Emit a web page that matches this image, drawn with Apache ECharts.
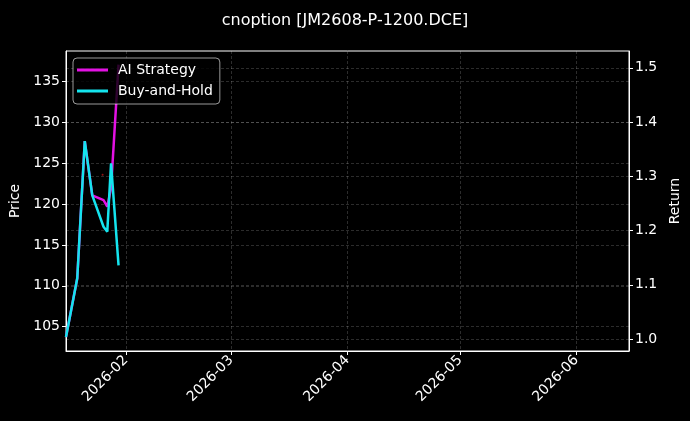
<!DOCTYPE html>
<html lang="en">
<head>
<meta charset="UTF-8">
<title>cnoption JM2608-P-1200.DCE</title>
<style>
    html, body { margin: 0; padding: 0; background: #000; }
    #echart { width: 690px; height: 421px; }
</style>
</head>
<body>

<div id="echart"></div>

<script src="https://cdn.jsdelivr.net/npm/echarts@6.0.0/dist/echarts.min.js"></script>
<script>
    // values
    const dates = ["2026-01-16", "2026-01-19", "2026-01-21", "2026-01-23", "2026-01-26", "2026-01-27", "2026-01-28", "2026-01-30"];
    const aiStrategy = [1.004, 1.112, 1.365, 1.265, 1.256, 1.244, 1.278, 1.506];
    const buyAndHold = [1.004, 1.112, 1.365, 1.265, 1.207, 1.198, 1.324, 1.136];
    const signalDates = ["2026-01-25T18:00"];
    const signalPrices = [123.6];

    const monthTicks = ["2026-02-01", "2026-03-01", "2026-04-01", "2026-05-01", "2026-06-01"];
    const priceTicks = [105, 110, 115, 120, 125, 130, 135];
    const returnTicks = [1.0, 1.1, 1.2, 1.3, 1.4, 1.5];

    const font = "DejaVu Sans";
    const white = "#ffffff";
    const gridLine = { show: true, lineStyle: { color: "rgba(255,255,255,0.22)", type: [3, 2], width: 0.8 } };

    const ts = (d) => +echarts.time.parse(d);
    const myChart = echarts.init(document.getElementById("echart"));
    const monthVals = monthTicks.map(ts);

    const option = {
        backgroundColor: "#000000",
        animation: false,
        textStyle: { fontFamily: font },
        title: {
            text: "cnoption [JM2608-P-1200.DCE]",
            left: "center",
            top: 8,
            textStyle: { color: white, fontSize: 16, fontWeight: "normal", fontFamily: font }
        },
        legend: {
            orient: "vertical",
            left: 73,
            top: 58,
            data: ["AI Strategy", "Buy-and-Hold"],
            icon: "rect",
            itemWidth: 31,
            itemHeight: 3,
            itemGap: 5,
            padding: [4, 7, 5, 4],
            backgroundColor: "rgba(0,0,0,0.8)",
            borderColor: "rgba(255,255,255,0.6)",
            borderWidth: 1,
            borderRadius: 4,
            textStyle: { color: white, fontSize: 14, fontFamily: font, lineHeight: 16, padding: [0, 0, 0, 5] }
        },
        grid: { left: 66, right: 61, top: 51, bottom: 70, show: true, borderColor: white, borderWidth: 1, outerBoundsMode: "none" },
        xAxis: {
            type: "value",
            min: ts("2026-01-16"),
            max: ts("2026-06-15"),
            axisLine: { lineStyle: { color: white } },
            axisTick: { customValues: monthVals, length: 4, lineStyle: { color: white } },
            axisLabel: {
                customValues: monthVals,
                rotate: 45,
                margin: 7,
                color: white,
                fontSize: 14,
                fontFamily: font,
                formatter: (v) => echarts.time.format(v, "{yyyy}-{MM}", false)
            },
            splitLine: gridLine
        },
        yAxis: [
            {
                type: "value",
                name: "Price",
                nameLocation: "middle",
                nameRotate: 90,
                nameGap: 39,
                nameTextStyle: { color: white, fontSize: 14, fontFamily: font },
                min: 102.02,
                max: 138.76,
                axisLine: { show: true, lineStyle: { color: white } },
                axisTick: { show: true, customValues: priceTicks, length: 4, lineStyle: { color: white } },
                axisLabel: { customValues: priceTicks, margin: 6, color: white, fontSize: 14, fontFamily: font },
                splitLine: gridLine
            },
            {
                type: "value",
                name: "Return",
                position: "right",
                nameLocation: "middle",
                nameRotate: 90,
                nameGap: 36,
                nameTextStyle: { color: white, fontSize: 14, fontFamily: font },
                min: 0.978,
                max: 1.531,
                axisLine: { show: true, lineStyle: { color: white } },
                axisTick: { show: true, customValues: returnTicks, length: 4, lineStyle: { color: white } },
                axisLabel: {
                    customValues: returnTicks,
                    margin: 6,
                    color: white,
                    fontSize: 14,
                    fontFamily: font,
                    formatter: (v) => v.toFixed(1)
                },
                splitLine: gridLine
            }
        ],
        series: [
            {
                name: "Signal",
                type: "scatter",
                yAxisIndex: 0,
                symbolSize: 2,
                itemStyle: { color: "rgba(230,30,30,0.8)" },
                data: signalDates.map((d, i) => [ts(d), signalPrices[i]]),
                z: 1
            },
            {
                name: "AI Strategy",
                type: "line",
                yAxisIndex: 1,
                showSymbol: false,
                symbol: "none",
                lineStyle: { color: "#e312e3", width: 2.5 },
                itemStyle: { color: "#e312e3" },
                data: dates.map((d, i) => [ts(d), aiStrategy[i]])
            },
            {
                name: "Buy-and-Hold",
                type: "line",
                yAxisIndex: 1,
                showSymbol: false,
                symbol: "none",
                lineStyle: { color: "#14e4ee", width: 2.5 },
                itemStyle: { color: "#14e4ee" },
                data: dates.map((d, i) => [ts(d), buyAndHold[i]])
            }
        ]
    };

    myChart.setOption(option);
</script>

</body>
</html>
